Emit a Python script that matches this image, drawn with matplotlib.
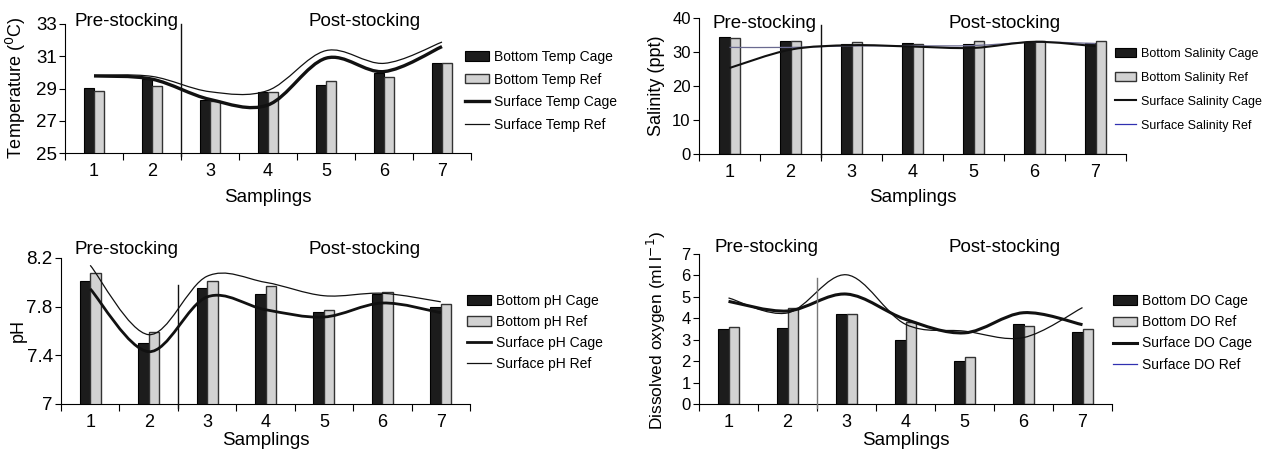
import numpy as np
import matplotlib
matplotlib.use("Agg")
import matplotlib.pyplot as plt
from matplotlib.path import Path
from matplotlib.patches import PathPatch, Patch
from matplotlib.lines import Line2D

plt.rcParams['font.family'] = ['Liberation Sans', 'DejaVu Sans']

# data
samplings = ["1", "2", "3", "4", "5", "6", "7"]

temp_bottom_cage = [29.05, 29.57, 28.27, 28.78, 29.22, 29.94, 30.56]
temp_bottom_ref = [28.83, 29.15, 28.25, 28.76, 29.47, 29.73, 30.56]
temp_surface_cage = [29.78, 29.58, 28.32, 27.98, 30.88, 30.05, 31.6]
temp_surface_ref = [29.82, 29.75, 28.8, 28.88, 31.35, 30.56, 31.88]

sal_bottom_cage = [34.4, 33.3, 32.3, 32.6, 32.4, 33.0, 32.7]
sal_bottom_ref = [34.1, 33.2, 32.8, 32.5, 33.2, 33.2, 33.2]
sal_surface_cage = [25.3, 30.7, 32.0, 31.6, 31.2, 33.0, 31.7]
sal_surface_ref = [31.35, 31.35, 31.8, 31.8, 31.9, 32.9, 32.5]

ph_bottom_cage = [8.01, 7.50, 7.95, 7.905, 7.755, 7.905, 7.80]
ph_bottom_ref = [8.08, 7.59, 8.01, 7.97, 7.77, 7.92, 7.82]
ph_surface_cage = [7.946, 7.43, 7.88, 7.775, 7.715, 7.83, 7.75]
ph_surface_ref = [8.14, 7.57, 8.05, 8.0, 7.89, 7.91, 7.84]

do_bottom_cage = [3.50, 3.55, 4.22, 3.0, 2.03, 3.74, 3.38]
do_bottom_ref = [3.58, 4.48, 4.22, 3.82, 2.2, 3.63, 3.49]
do_surface_cage = [4.79, 4.34, 5.13, 3.95, 3.32, 4.26, 3.7]
do_surface_ref = [4.95, 4.25, 6.03, 3.72, 3.4, 3.1, 4.5]

W, H = 1269, 455
fig = plt.figure(figsize=(W / 100, H / 100), dpi=100)


def rect(x0, x1, y0, y1):
    return [x0 / W, 1 - y1 / H, (x1 - x0) / W, (y1 - y0) / H]


def smooth(ax, xs, ys, **kw):
    # excel-like smoothed line drawn as bezier segments
    pts = np.column_stack([xs, ys])
    n = len(pts)
    verts = [pts[0]]
    codes = [Path.MOVETO]
    for i in range(n - 1):
        p0 = pts[max(i - 1, 0)]
        p1 = pts[i]
        p2 = pts[i + 1]
        p3 = pts[min(i + 2, n - 1)]
        verts += [p1 + (p2 - p0) / 6, p2 - (p3 - p1) / 6, p2]
        codes += [Path.CURVE4] * 3
    ax.add_patch(PathPatch(Path(verts, codes), fill=False, zorder=3, **kw))


def panel(r, cage, ref, s_cage, s_ref, ylim, yticks, ytl, ylabel, ylab_xy,
          xlab_y, legend_labels, leg_xy, leg_fs, leg_sp, tick_fs, cage_lw,
          ref_color, ref_leg_color, div_top, div_color, pre_xy, post_xy,
          ylab_fs=13.5):
    ax = fig.add_axes(rect(*r))
    x = np.arange(7) + 0.5
    ax.bar(x - 0.09, cage, width=0.18, color='#1c1c1c', edgecolor='#000000',
           linewidth=0.8, zorder=2)
    ax.bar(x + 0.09, ref, width=0.18, color='#d2d2d2', edgecolor='#333333',
           linewidth=1.0, zorder=2)
    smooth(ax, x, s_ref, color=ref_color, lw=0.9)
    smooth(ax, x, s_cage, color='#111111', lw=cage_lw)
    ax.set_xlim(0, 7)
    ax.set_ylim(*ylim)
    span = ylim[1] - ylim[0]
    ax.plot([2, 2], [ylim[0] - span * 0.025, div_top], color=div_color,
            lw=1.0, clip_on=False, zorder=4)

    ax.set_xticks(x)
    ax.set_xticklabels(samplings, fontsize=13)
    ax.set_xticks(np.arange(8), minor=True)
    ax.tick_params(axis='x', which='major', length=0, pad=7)
    ax.tick_params(axis='x', which='minor', length=5, width=0.8,
                   direction='out')
    ax.set_yticks(yticks)
    ax.set_yticklabels(ytl, fontsize=tick_fs)
    ax.tick_params(axis='y', length=4, width=0.8, direction='out', pad=2)
    for s in ['top', 'right']:
        ax.spines[s].set_visible(False)
    for s in ['left', 'bottom']:
        ax.spines[s].set_linewidth(0.8)

    ax.set_ylabel(ylabel, fontsize=ylab_fs)
    ax.yaxis.set_label_coords(ylab_xy[0] / W, 1 - ylab_xy[1] / H,
                              transform=fig.transFigure)
    ax.set_xlabel("Samplings", fontsize=13.5)
    ax.xaxis.set_label_coords((r[0] + r[1]) / 2 / W, 1 - xlab_y / H,
                              transform=fig.transFigure)

    fig.text(pre_xy[0] / W, 1 - pre_xy[1] / H, "Pre-stocking", fontsize=13.5,
             va='center', ha='left')
    fig.text(post_xy[0] / W, 1 - post_xy[1] / H, "Post-stocking", fontsize=13.5,
             va='center', ha='left')

    handles = [Patch(facecolor='#1c1c1c', edgecolor='#000000', lw=0.8),
               Patch(facecolor='#d2d2d2', edgecolor='#333333', lw=1.0),
               Line2D([], [], color='#111111', lw=cage_lw),
               Line2D([], [], color=ref_leg_color, lw=0.9)]
    fig.legend(handles, legend_labels, loc='upper left',
               bbox_to_anchor=(leg_xy[0] / W, 1 - leg_xy[1] / H),
               frameon=False, fontsize=leg_fs, handlelength=1.7,
               handleheight=0.65, handletextpad=0.4, labelspacing=leg_sp,
               borderpad=0, borderaxespad=0)
    return ax


panel((65, 471, 24, 153), temp_bottom_cage, temp_bottom_ref,
      temp_surface_cage, temp_surface_ref, (25, 33), [25, 27, 29, 31, 33],
      ["25", "27", "29", "31", "33"], "Temperature ($^0$C)", (28, 88), 189,
      ["Bottom Temp Cage", "Bottom Temp Ref", "Surface Temp Cage",
       "Surface Temp Ref"], (465, 50), 10, 0.62, 13.5, 2.4,
      '#111111', '#111111', 33, '#111111', (75, 22), (309, 22), 13)

panel((699, 1126, 18, 154), sal_bottom_cage, sal_bottom_ref,
      sal_surface_cage, sal_surface_ref, (0, 40), [0, 10, 20, 30, 40],
      ["0", "10", "20", "30", "40"], "Salinity (ppt)", (665, 86), 189,
      ["Bottom Salinity Cage", "Bottom Salinity Ref", "Surface Salinity Cage",
       "Surface Salinity Ref"], (1115, 48), 9, 0.95, 12, 1.5,
      '#6a6a90', '#3030b0', 37.9, '#111111', (713, 24), (949, 24), 13)

panel((61, 470, 258, 404), ph_bottom_cage, ph_bottom_ref,
      ph_surface_cage, ph_surface_ref, (7, 8.2), [7, 7.4, 7.8, 8.2],
      ["7", "7.4", "7.8", "8.2"], "pH", (27, 331), 432,
      ["Bottom pH Cage", "Bottom pH Ref", "Surface pH Cage", "Surface pH Ref"],
      (467, 294), 10, 0.5, 13.5, 2.0,
      '#111111', '#111111', 7.98, '#111111', (75, 249), (309, 249), 13)

panel((699, 1112, 254, 404), do_bottom_cage, do_bottom_ref,
      do_surface_cage, do_surface_ref, (0, 7), list(range(8)),
      [str(i) for i in range(8)], "Dissolved oxygen (ml l$^{-1}$)", (668, 330),
      432,
      ["Bottom DO Cage", "Bottom DO Ref", "Surface DO Cage", "Surface DO Ref"],
      (1113, 294), 10, 0.52, 12, 2.2,
      '#111111', '#3030b0', 5.88, '#777777', (714, 248), (949, 248), 12.5)

fig.savefig("out.png", dpi=100)
